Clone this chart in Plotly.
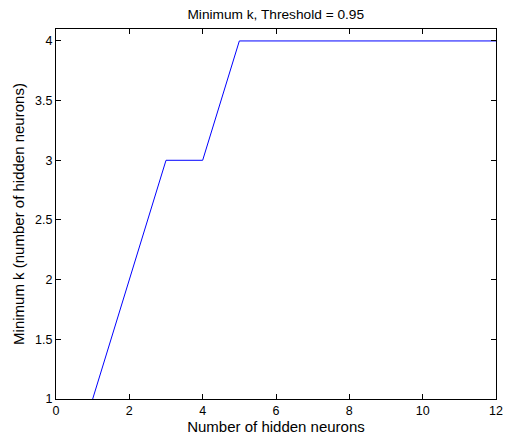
import plotly.graph_objects as go

hidden_neurons = [1, 2, 3, 4, 5, 6, 7, 8, 9, 10, 11, 12]
min_k = [1, 2, 3, 3, 4, 4, 4, 4, 4, 4, 4, 4]

x_ticks = [0, 2, 4, 6, 8, 10, 12]
y_ticks = [1, 1.5, 2, 2.5, 3, 3.5, 4]

font = dict(family="Liberation Sans, Arial, sans-serif", size=12.5, color="black")

fig = go.Figure(go.Scatter(
    x=hidden_neurons, y=min_k, mode="lines",
    line=dict(color="#0000ff", width=1),
))

axis_common = dict(
    showgrid=False, zeroline=False, showline=True, linecolor="black",
    linewidth=1, mirror="ticks", ticks="inside", ticklen=5, tickcolor="black",
    tickfont=font, automargin=False,
)

fig.update_layout(
    width=506, height=441,
    margin=dict(l=56, r=10, t=29, b=42),
    paper_bgcolor="white", plot_bgcolor="white",
    font=font,
    showlegend=False,
    title=dict(text="Minimum k, Threshold = 0.95", x=0.545, xanchor="center",
               y=0.968, yanchor="middle", font=dict(size=13.7)),
    xaxis=dict(range=[0, 12], tickvals=x_ticks, ticktext=[str(v) for v in x_ticks],
               title=dict(text="Number of hidden neurons", standoff=4), **axis_common),
    yaxis=dict(range=[1, 4.1], tickvals=y_ticks, ticktext=[f"{v:g}" for v in y_ticks],
               title=dict(text="Minimum k (number of hidden neurons)", standoff=6),
               **axis_common),
)

fig.write_html("out.html")
